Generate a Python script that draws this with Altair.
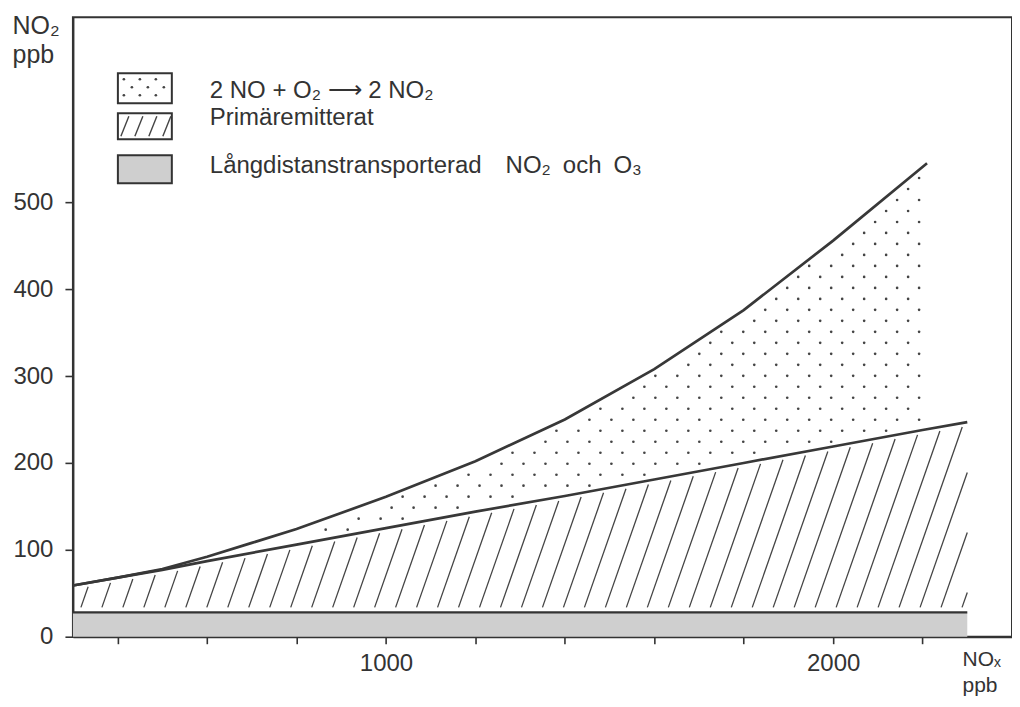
import altair as alt
import numpy as np
import pandas as pd

# ---------------- data ----------------
nox_primary = [300, 400, 500, 600, 800, 1000, 1200, 1400, 1600, 1800, 2000, 2200, 2300]
no2_primary = [59, 68, 77, 87, 106, 125, 144, 162, 181, 200, 219, 238, 247]

nox_total = [300, 400, 500, 600, 700, 800, 1000, 1200, 1400, 1600, 1800, 2000, 2210]
no2_total = [59, 68, 78, 92, 108, 124, 161, 202, 250, 308, 376, 456, 545]

nox_background = [300, 2300]
no2_background = [28, 28]

x_ticks = [400, 600, 800, 1000, 1200, 1400, 1600, 1800, 2000, 2200]
x_labels = [1000, 2000]
y_ticks = [0, 100, 200, 300, 400, 500]

legend_labels = [
    "2 NO + O\u2082 \u27f6 2 NO\u2082",
    "Prim\u00e4remitterat",
    "L\u00e5ngdistanstransporterad\u2003NO\u2082\u2002och\u2002O\u2083",
]

# ---------------- geometry / style ----------------
W, H = 940, 620
XDOM = [300, 2400]
YDOM = [0, 713]
ppx = W / (XDOM[1] - XDOM[0])
ppy = H / (YDOM[1] - YDOM[0])
FONT = "Liberation Sans"
INK = "#333333"
BAND = "#cfcfcf"

def lower(x):
    return np.interp(x, nox_primary, no2_primary)

def upper(x):
    return np.interp(x, nox_total, no2_total)

# hatch texture for the primary-emission region
hatch = []
yb = no2_background[0] + 5 / ppy
gap = 4 / ppy
r = 0.35  # dx/dy in pixels
xb = nox_background[0] + 8 / ppx
xend = nox_background[1]
while xb < xend:
    yt = lower(xb) - gap
    for _ in range(30):
        xt = xb + r * (yt - yb) * ppy / ppx
        yt = lower(xt) - gap
    if xt > xend:
        xt = xend
        yt = yb + (xend - xb) * ppx / (r * ppy)
    if yt > yb + 1:
        hatch.append({"x": xb, "y": yb, "x2": xt, "y2": yt})
    xb += 21 / ppx
hatch_df = pd.DataFrame(hatch)

# dot texture for the photochemical region
dots = []
dy = 11 / ppy
dx = 22 / ppx
dgap = 5 / ppy
xlim = nox_total[-1] - 4 / ppx
j = 0
yv = 60.0
while yv < 560:
    off = (j % 2) * dx / 2
    xv = nox_total[0] + off
    while xv <= xlim:
        if lower(xv) + dgap < yv < upper(xv) - dgap:
            dots.append({"x": xv, "y": yv})
        xv += dx
    yv += dy
    j += 1
dots_df = pd.DataFrame(dots)

xs = alt.Scale(domain=XDOM, nice=False, zero=False)
ys = alt.Scale(domain=YDOM, nice=False)

label_test = " || ".join(f"datum.value == {v}" for v in x_labels)
x_axis = alt.Axis(
    values=x_ticks, labelExpr=f"({label_test}) ? format(datum.value, 'd') : ''",
    grid=False, tickSize=7, tickWidth=1.6, tickColor=INK, domainColor=INK, domainWidth=2,
    labelFont=FONT, labelFontSize=24, labelColor=INK, labelPadding=8,
    title=["NO\u2093", "ppb"], titleAngle=0, titleX=890, titleY=29, titleAlign="left",
    titleBaseline="alphabetic", titleFont=FONT, titleFontSize=21, titleFontWeight="normal",
    titleColor=INK, titleLineHeight=26,
)
y_axis = alt.Axis(
    values=y_ticks, format="d", grid=False, tickSize=8, tickWidth=1.6, tickColor=INK,
    domainColor=INK, domainWidth=2, labelFont=FONT, labelFontSize=24, labelColor=INK,
    labelPadding=12,
    title=["NO\u2082", "ppb"], titleAngle=0, titleX=-61, titleY=16, titleAlign="left",
    titleBaseline="alphabetic", titleFont=FONT, titleFontSize=25, titleFontWeight="normal",
    titleColor=INK, titleLineHeight=29,
)

def X(f="x"):
    return alt.X(f"{f}:Q", scale=xs, axis=x_axis)

def Y(f="y"):
    return alt.Y(f"{f}:Q", scale=ys, axis=y_axis)

band_df = pd.DataFrame({"x": nox_background, "y": no2_background})
prim_df = pd.DataFrame({"x": nox_primary, "y": no2_primary})
tot_df = pd.DataFrame({"x": nox_total, "y": no2_total})

band = alt.Chart(band_df).mark_area(color=BAND).encode(x=X(), y=Y())
band_line = alt.Chart(band_df).mark_line(color=INK, strokeWidth=2.4).encode(x=X(), y=Y())
hatch_layer = alt.Chart(hatch_df).mark_rule(color="#444444", strokeWidth=1.3).encode(
    x=X(), y=Y(), x2="x2:Q", y2="y2:Q",
)
dot_layer = alt.Chart(dots_df).mark_circle(color="#444444", size=7, opacity=1).encode(x=X(), y=Y())
prim_line = alt.Chart(prim_df).mark_line(color="#383838", strokeWidth=2.7).encode(x=X(), y=Y())
tot_line = alt.Chart(tot_df).mark_line(color="#383838", strokeWidth=2.7).encode(x=X(), y=Y())

# ---------------- legend (drawn as annotation in pixel space) ----------------
lx0, lx1 = 45, 99
rows = [(56, 86), (96, 122), (138, 166)]
sw_df = pd.DataFrame({
    "x": [lx0] * 3, "x2": [lx1] * 3,
    "y": [a for a, b in rows], "y2": [b for a, b in rows],
    "fill": ["white", "white", BAND],
})
swatches = alt.Chart(sw_df).mark_rect(stroke=INK, strokeWidth=2).encode(
    x=alt.X("x:Q", scale=None), x2="x2:Q", y=alt.Y("y:Q", scale=None), y2="y2:Q",
    fill=alt.Fill("fill:N", scale=None),
)
sd = []
for i, yy in enumerate(range(rows[0][0] + 6, rows[0][1] - 3, 8)):
    for xx in range(lx0 + 6 + (i % 2) * 8, lx1 - 3, 16):
        sd.append({"x": xx, "y": yy})
sw_dots = alt.Chart(pd.DataFrame(sd)).mark_circle(color="#444444", size=7, opacity=1).encode(
    x=alt.X("x:Q", scale=None), y=alt.Y("y:Q", scale=None)
)
sh = []
for k in range(4):
    bx = lx0 + 3 + k * 14
    sh.append({"x": bx, "y": rows[1][1] - 3, "x2": bx + 8, "y2": rows[1][0] + 3})
sw_hatch = alt.Chart(pd.DataFrame(sh)).mark_rule(color="#444444", strokeWidth=1.4).encode(
    x=alt.X("x:Q", scale=None), y=alt.Y("y:Q", scale=None), x2="x2:Q", y2="y2:Q"
)
lt_df = pd.DataFrame({"label": legend_labels, "y": [81, 108, 156]})
leg_text = alt.Chart(lt_df).mark_text(
    align="left", baseline="alphabetic", font=FONT, fontSize=24, color=INK
).encode(x=alt.value(137), y=alt.Y("y:Q", scale=None), text="label:N")

chart = alt.layer(
    band, hatch_layer, dot_layer, band_line, prim_line, tot_line,
    swatches, sw_dots, sw_hatch, leg_text,
).properties(
    width=W, height=H,
    autosize=alt.AutoSizeParams(type="none"),
    padding={"left": 65, "top": 9, "right": 0, "bottom": 62},
    background="white",
).configure_view(stroke=INK, strokeWidth=2)

chart.save("out.html", embed_options={"renderer": "svg", "actions": False})
